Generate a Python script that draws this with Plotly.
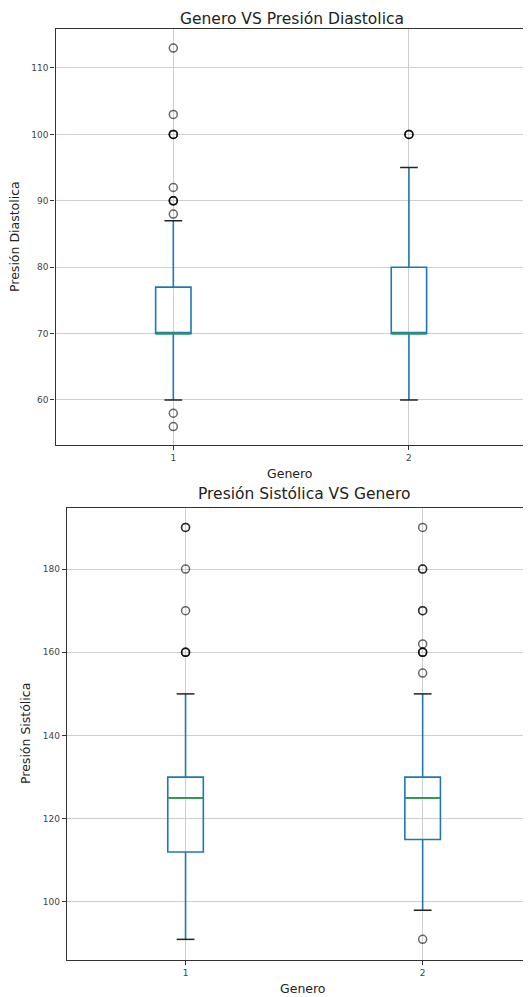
import plotly.graph_objects as go
from plotly.subplots import make_subplots

# ---------------- data ----------------
generos = [1, 2]
tick_labels = ["1", "2"]

# Presión Diastólica (top)
dia_q1 = [70, 70]
dia_median = [70, 70]
dia_q3 = [77, 80]
dia_low = [60, 60]
dia_high = [87, 95]
dia_out_g1 = [113, 103, 100, 100, 100, 92, 90, 90, 90, 88, 58, 56]
dia_out_g2 = [100, 100, 100]

# Presión Sistólica (bottom)
sis_q1 = [112, 115]
sis_median = [125, 125]
sis_q3 = [130, 130]
sis_low = [91, 98]
sis_high = [150, 150]
sis_out_g1 = [190, 190, 180, 170, 160, 160, 160]
sis_out_g2 = [190, 180, 180, 170, 170, 162, 160, 160, 160, 155, 91]

# page has an 8px body margin: figure covers page x 8..531, y 8..997
OFF = 8
W, H = 531 - OFF, 997 - OFF
BOX_W = 0.15
BLUE = "#1f77b4"
GREEN = "#2ca02c"
FONT = "DejaVu Sans"
LINE_EW_FACTOR = 1.4  # plotly line-ew marker length = 1.4 * size

fig = make_subplots(rows=2, cols=1)


def add_panel(row, q1, med, q3, lo, hi, out1, out2, px_per_unit):
    fig.add_trace(go.Box(
        x=generos, q1=q1, median=med, q3=q3, lowerfence=lo, upperfence=hi,
        width=BOX_W, whiskerwidth=0, boxpoints=False,
        line=dict(color=BLUE, width=1.6), fillcolor="rgba(0,0,0,0)",
        showlegend=False), row=row, col=1)
    fig.add_trace(go.Scatter(
        x=generos, y=med, mode="markers", showlegend=False,
        marker=dict(symbol="line-ew", size=BOX_W * px_per_unit / LINE_EW_FACTOR - 1,
                    line=dict(color=GREEN, width=1.6))), row=row, col=1)
    fig.add_trace(go.Scatter(
        x=generos + generos, y=lo + hi, mode="markers", showlegend=False,
        marker=dict(symbol="line-ew", size=BOX_W * 0.5 * px_per_unit / LINE_EW_FACTOR,
                    line=dict(color="#222", width=1.5))), row=row, col=1)
    fig.add_trace(go.Scatter(
        x=[generos[0]] * len(out1) + [generos[1]] * len(out2), y=out1 + out2,
        mode="markers", showlegend=False,
        marker=dict(symbol="circle-open", size=8, color="rgba(0,0,0,0.6)",
                    line=dict(color="rgba(0,0,0,0.6)", width=1.5))), row=row, col=1)


add_panel(1, dia_q1, dia_median, dia_q3, dia_low, dia_high, dia_out_g1, dia_out_g2, 236)
add_panel(2, sis_q1, sis_median, sis_q3, sis_low, sis_high, sis_out_g1, sis_out_g2, 237)

axis_common = dict(showgrid=True, gridcolor="#cfcfcf", gridwidth=1,
                   showline=True, linecolor="#333", linewidth=1.3,
                   ticks="outside", ticklen=4, tickcolor="#333",
                   tickfont=dict(family=FONT, size=9, color="#444"),
                   zeroline=False)

fig.update_xaxes(**axis_common, mirror=True, tickmode="array",
                 tickvals=generos, ticktext=tick_labels)
fig.update_yaxes(**axis_common, mirror=False)


def px_x(x):
    return (x - OFF) / W


def px_y(y):
    return 1 - (y - OFF) / H


fig.update_layout(
    xaxis=dict(domain=[px_x(55.5), 1], range=[0.5, 2.518]),
    yaxis=dict(domain=[px_y(445), px_y(29)], range=[53.22, 115.87],
               tickvals=[60, 70, 80, 90, 100, 110]),
    xaxis2=dict(domain=[px_x(67), 1], range=[0.5, 2.457]),
    yaxis2=dict(domain=[px_y(960), px_y(508)], range=[86.04, 194.68],
                tickvals=[100, 120, 140, 160, 180]),
    width=W, height=H, margin=dict(l=0, r=0, t=0, b=0),
    plot_bgcolor="white", paper_bgcolor="white",
)


def ann(text, x, y, size, angle=0, yanchor="middle"):
    fig.add_annotation(text=text, x=px_x(x), y=px_y(y), xref="paper", yref="paper",
                       showarrow=False, textangle=angle, xanchor="center",
                       yanchor=yanchor,
                       font=dict(family=FONT, size=size, color="#222"))


ann("Genero VS Presión Diastolica", 292, 8, 15.5, yanchor="top")
ann("Genero", 290, 473, 12.5)
ann("Presión Diastolica", 14, 237, 12.5, -90)
ann("Presión Sistólica VS Genero", 304, 494, 15.5)
ann("Genero", 303, 988, 12.5)
ann("Presión Sistólica", 25, 734, 12.5, -90)

fig.write_html("out.html")
